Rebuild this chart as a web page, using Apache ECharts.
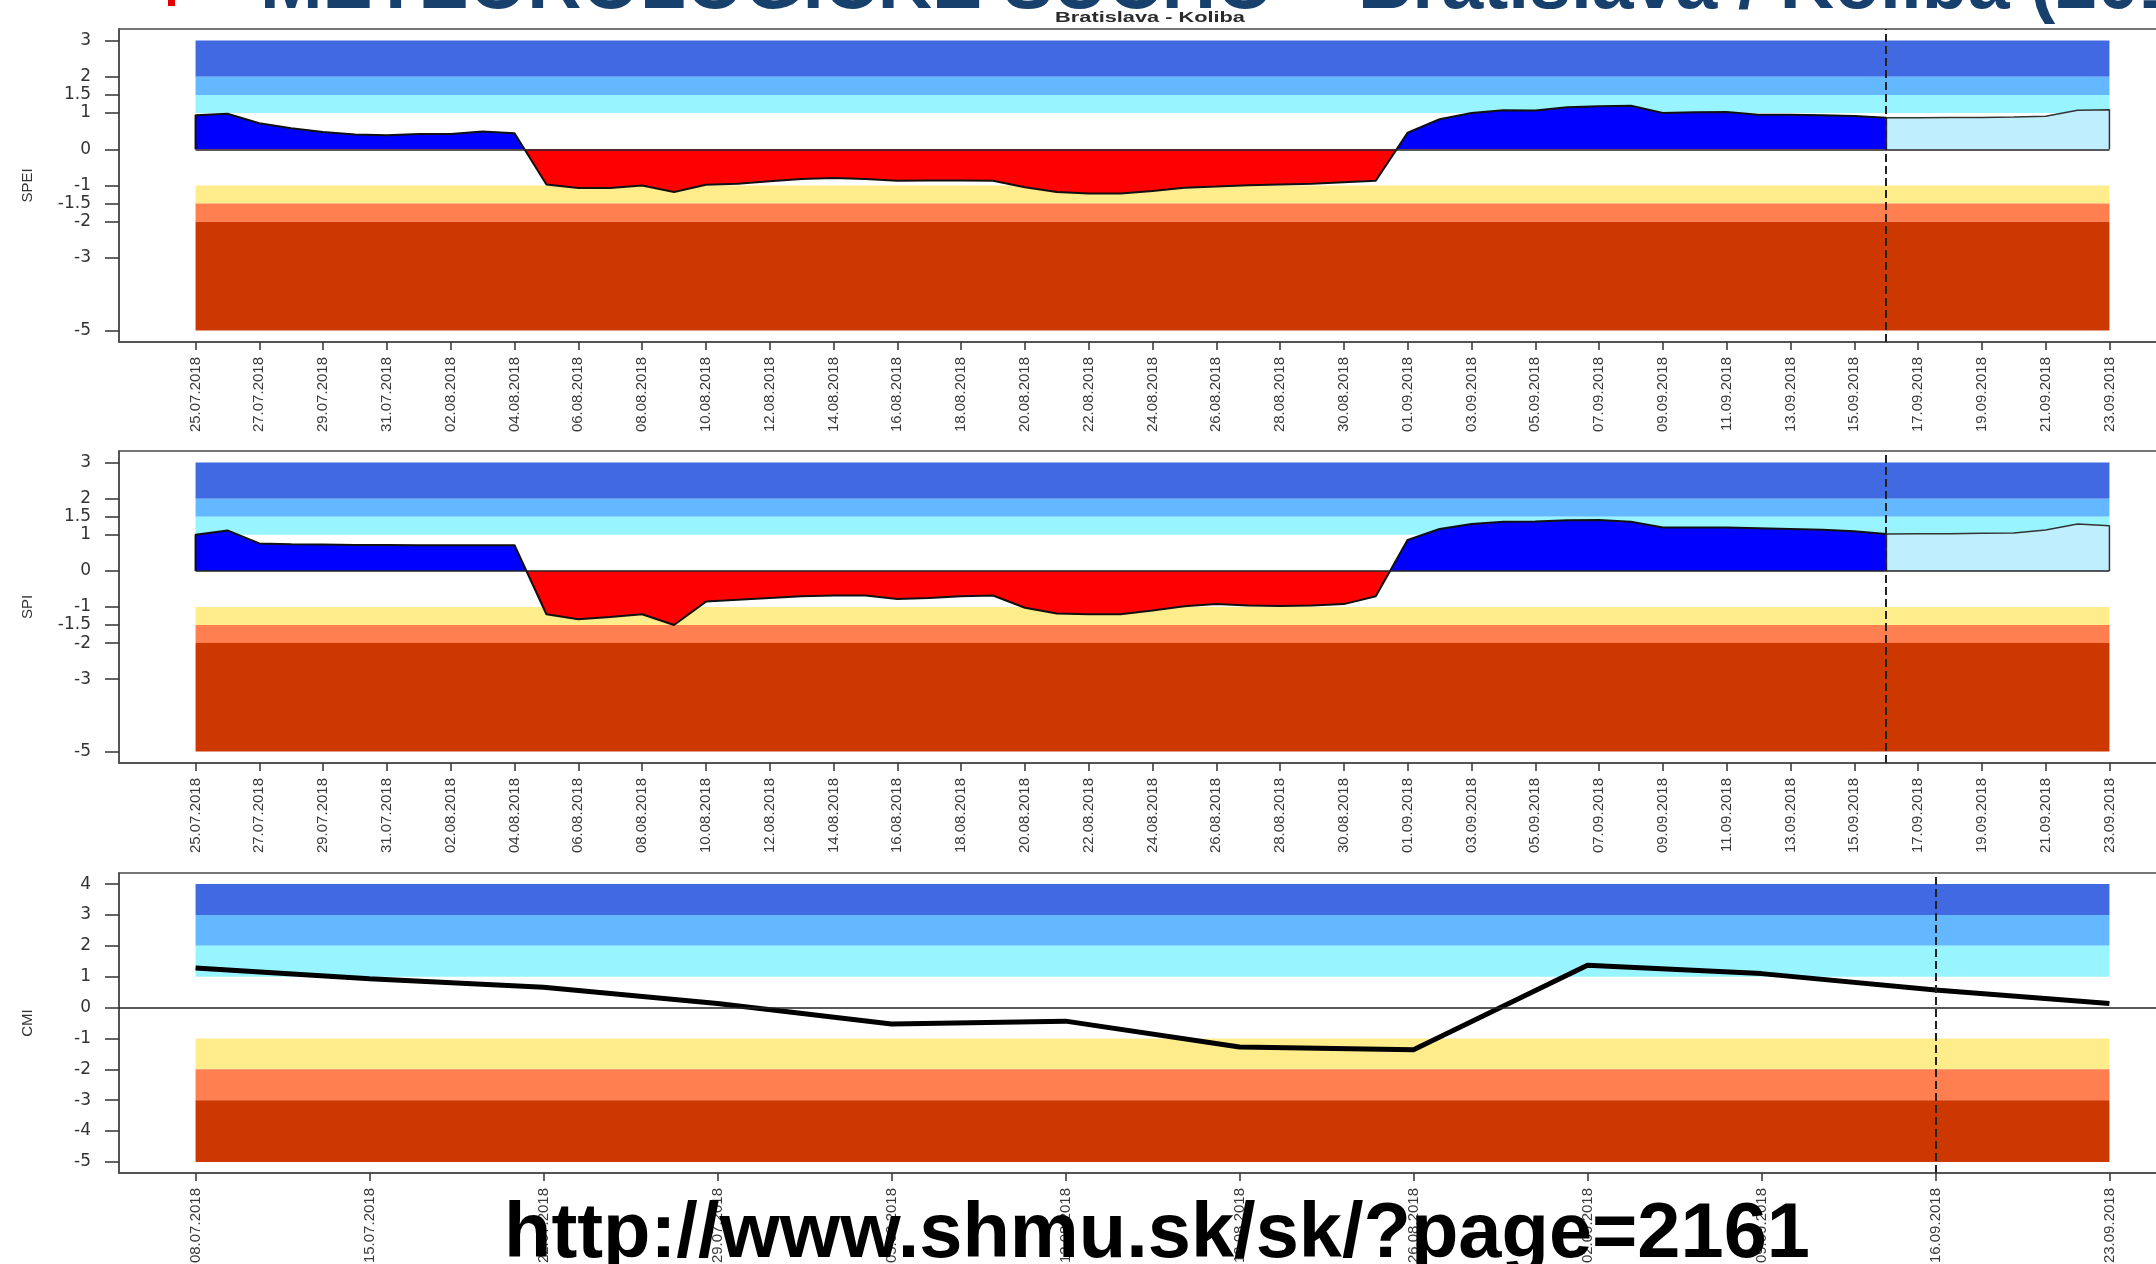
<!DOCTYPE html>
<html>
<head>
<meta charset="utf-8">
<title>Bratislava - Koliba</title>
<script src="https://cdn.jsdelivr.net/npm/echarts@6/dist/echarts.min.js"></script>
<style>
  html, body { margin: 0; padding: 0; background: #fff; }
  #chart { width: 2156px; height: 1264px; }
</style>
</head>
<body>
<div id="chart"></div>
<script>
// texty
const slideTitle = 'METEOROLOGICKÉ SUCHO – Bratislava / Koliba (2018)';
const stationTitle = 'Bratislava - Koliba';
const urlText = 'http://www.shmu.sk/sk/?page=2161';

// popisky osi x (SPEI, SPI: kazdy druhy den od 25.07.)
const dayLabels = ['25.07.2018', '27.07.2018', '29.07.2018', '31.07.2018', '02.08.2018', '04.08.2018',
  '06.08.2018', '08.08.2018', '10.08.2018', '12.08.2018', '14.08.2018', '16.08.2018', '18.08.2018',
  '20.08.2018', '22.08.2018', '24.08.2018', '26.08.2018', '28.08.2018', '30.08.2018', '01.09.2018',
  '03.09.2018', '05.09.2018', '07.09.2018', '09.09.2018', '11.09.2018', '13.09.2018', '15.09.2018',
  '17.09.2018', '19.09.2018', '21.09.2018', '23.09.2018'];
// CMI: tyzdenne
const weekLabels = ['08.07.2018', '15.07.2018', '22.07.2018', '29.07.2018', '05.08.2018', '12.08.2018',
  '19.08.2018', '26.08.2018', '02.09.2018', '09.09.2018', '16.09.2018', '23.09.2018'];

// SPEI - merane dni 25.07. .. 16.09., predpoved 16.09. .. 23.09.
const speiObs = [0.94, 0.98, 0.72, 0.58, 0.48, 0.41, 0.39, 0.42, 0.42, 0.49, 0.44,
  -0.97, -1.07, -1.07, -1.0, -1.18, -0.98, -0.95, -0.88, -0.82, -0.79, -0.82, -0.87, -0.86, -0.86,
  -0.87, -1.05, -1.18, -1.22, -1.22, -1.15, -1.06, -1.03, -0.99, -0.97, -0.95, -0.91, -0.87,
  0.46, 0.83, 1.0, 1.08, 1.07, 1.16, 1.19, 1.2, 1.0, 1.02, 1.03, 0.95, 0.95, 0.94, 0.92, 0.87];
const speiFcst = [0.87, 0.87, 0.88, 0.88, 0.89, 0.91, 1.08, 1.09];

// SPI
const spiObs = [1.0, 1.12, 0.76, 0.74, 0.73, 0.72, 0.72, 0.71, 0.71, 0.71, 0.71,
  -1.2, -1.34, -1.28, -1.2, -1.5, -0.85, -0.8, -0.75, -0.7, -0.68, -0.68, -0.78, -0.75, -0.7,
  -0.68, -1.02, -1.18, -1.2, -1.2, -1.1, -0.98, -0.92, -0.96, -0.97, -0.96, -0.92, -0.7,
  0.86, 1.16, 1.3, 1.36, 1.37, 1.4, 1.41, 1.36, 1.2, 1.2, 1.2, 1.18, 1.16, 1.14, 1.1, 1.02];
const spiFcst = [1.02, 1.03, 1.03, 1.04, 1.05, 1.13, 1.3, 1.25];

// CMI tyzdenne
const cmiValues = [1.28, 0.93, 0.66, 0.13, -0.53, -0.44, -1.28, -1.37, 1.37, 1.1, 0.57, 0.13];

// hranice pasiem a tick-y osi y
const spBandLimits = [[2, 3], [1.5, 2], [1, 1.5], [-1.5, -1], [-2, -1.5], [-5, -2]];
const cmiBandLimits = [[3, 4], [2, 3], [1, 2], [-2, -1], [-3, -2], [-5, -3]];
const spYTicks = [-5, -3, -2, -1.5, -1, 0, 1, 1.5, 2, 3];
const cmiYTicks = [-5, -4, -3, -2, -1, 0, 1, 2, 3, 4];

const bandColors = ['#4169E1', '#63B8FF', '#98F5FF', '#FFEC8B', '#FF7F50', '#CD3700'];

const forecastStart = speiObs.length - 1;   // 16.09.
const lastDay = (dayLabels.length - 1) * 2;  // 60
const cmiNow = weekLabels.indexOf('16.09.2018');

const chart = echarts.init(document.getElementById('chart'));

const GRID_LEFT = 119;
const GRID_W = 2067;
const frameColor = '#4a4a4a';

const grids = [
  {top: 29, height: 313},
  {top: 451, height: 312},
  {top: 873, height: 300}
].map(g => Object.assign({
  show: true, left: GRID_LEFT, width: GRID_W, outerBoundsMode: 'none', containLabel: false,
  borderColor: frameColor, borderWidth: 1.5, backgroundColor: 'transparent'
}, g));

function xAxisCfg(gridIndex, min, max, ticks, fmt) {
  return {
    type: 'value', gridIndex, min, max,
    splitLine: {show: false},
    axisLine: {show: true, onZero: false, lineStyle: {color: frameColor, width: 1.5}},
    axisTick: {show: true, customValues: ticks, length: 8, lineStyle: {color: '#333', width: 1.5}},
    axisLabel: {
      customValues: ticks, rotate: 90, margin: 15, formatter: fmt,
      color: '#3a3a3a', fontSize: 15, fontFamily: 'Liberation Sans'
    }
  };
}

function yAxisCfg(gridIndex, name, min, max, ticks) {
  return {
    type: 'value', gridIndex, min, max, name,
    nameLocation: 'middle', nameGap: 84,
    nameTextStyle: {color: '#333', fontSize: 15, fontFamily: 'Liberation Sans'},
    splitLine: {show: false},
    axisLine: {show: true, onZero: false, lineStyle: {color: frameColor, width: 1.5}},
    axisTick: {show: true, customValues: ticks, length: 14, lineStyle: {color: '#333', width: 1.5}},
    axisLabel: {
      customValues: ticks, margin: 28, color: '#333', fontSize: 17, fontFamily: 'DejaVu Sans',
      formatter: v => String(v)
    }
  };
}

// pasma v pozadi
function bandSeries(idx, limits, x0, x1) {
  return {
    type: 'line', xAxisIndex: idx, yAxisIndex: idx, data: [], silent: true, z: 1,
    markArea: {
      silent: true, label: {show: false},
      data: limits.map((b, k) => [
        {xAxis: x0, yAxis: b[0], itemStyle: {color: bandColors[k], opacity: 1}},
        {xAxis: x1, yAxis: b[1]}
      ])
    }
  };
}

// merane hodnoty - modra nad nulou, cervena pod nulou (vypln doplnena nizsie)
function obsSeries(idx, vals) {
  const pts = [[0, 0]].concat(vals.map((v, i) => [i, v])).concat([[vals.length - 1, 0]]);
  return {
    type: 'line', xAxisIndex: idx, yAxisIndex: idx, data: pts,
    symbol: 'none', showSymbol: false, silent: true, z: 3,
    lineStyle: {color: '#111', width: 2},
    areaStyle: {color: '#0000FF', opacity: 1, origin: 0}
  };
}

function fcstSeries(idx, vals) {
  const end = forecastStart + vals.length - 1;
  const pts = [[forecastStart, 0]].concat(vals.map((v, i) => [forecastStart + i, v])).concat([[end, 0]]);
  return {
    type: 'line', xAxisIndex: idx, yAxisIndex: idx, data: pts,
    symbol: 'none', showSymbol: false, silent: true, z: 3,
    lineStyle: {color: '#333', width: 1.5},
    areaStyle: {color: '#BFEFFF', opacity: 1, origin: 0},
    markLine: {
      silent: true, symbol: ['none', 'none'], label: {show: false}, z: 5,
      data: [
        {xAxis: forecastStart, lineStyle: {type: 'dashed', color: '#222', width: 2}},
        [{coord: [0, 0], lineStyle: {type: 'solid', color: '#222', width: 1.5}}, {coord: [end, 0]}]
      ]
    }
  };
}

const dayFmt = v => dayLabels[Math.round(v / 2)] || '';
const dayTicks = dayLabels.map((_, i) => i * 2);
const weekTicks = weekLabels.map((_, i) => i);
const padDay = lastDay * 0.04;
const padWeek = (weekLabels.length - 1) * 0.04;

const option = {
  animation: false,
  backgroundColor: '#fff',
  grid: grids,
  xAxis: [
    xAxisCfg(0, -padDay, lastDay + padDay, dayTicks, dayFmt),
    xAxisCfg(1, -padDay, lastDay + padDay, dayTicks, dayFmt),
    xAxisCfg(2, -padWeek, weekLabels.length - 1 + padWeek, weekTicks, v => weekLabels[Math.round(v)] || '')
  ],
  yAxis: [
    yAxisCfg(0, 'SPEI', -5.32, 3.32, spYTicks),
    yAxisCfg(1, 'SPI', -5.32, 3.32, spYTicks),
    yAxisCfg(2, 'CMI', -5.36, 4.36, cmiYTicks)
  ],
  series: [
    bandSeries(0, spBandLimits, 0, lastDay),
    obsSeries(0, speiObs),
    fcstSeries(0, speiFcst),
    bandSeries(1, spBandLimits, 0, lastDay),
    obsSeries(1, spiObs),
    fcstSeries(1, spiFcst),
    bandSeries(2, cmiBandLimits, 0, weekLabels.length - 1),
    {
      type: 'line', xAxisIndex: 2, yAxisIndex: 2,
      data: cmiValues.map((v, i) => [i, v]),
      symbol: 'none', showSymbol: false, silent: true, z: 4,
      lineStyle: {color: '#000', width: 5},
      markLine: {
        silent: true, symbol: ['none', 'none'], label: {show: false},
        data: [
          {yAxis: 0, lineStyle: {type: 'solid', color: '#222', width: 1.5}},
          {xAxis: cmiNow, lineStyle: {type: 'dashed', color: '#222', width: 2}}
        ]
      }
    }
  ]
};

// sirka textov podla predlohy
const measureCtx = document.createElement('canvas').getContext('2d');
function fitScale(text, font, target) {
  measureCtx.font = font;
  return target / measureCtx.measureText(text).width;
}
const titleFont = 'bold 76px "Liberation Sans"';
const urlFont = 'bold 78px "Liberation Sans"';
const titleScale = fitScale('METEOROLOGICKÉ SUCHO – ', titleFont, 1098);
const urlScale = fitScale(urlText, urlFont, 1306);

option.graphic = [
  {type: 'rect', z: 50, shape: {x: 168, y: -10, width: 7, height: 16}, style: {fill: '#E00000'}},
  {
    type: 'text', z: 50, x: 260, y: -13, scaleX: titleScale,
    style: {text: slideTitle, font: titleFont, fill: '#17406D', textAlign: 'left', verticalAlign: 'middle'}
  },
  {
    type: 'text', z: 50, x: 1150, y: 18, scaleX: 1.45,
    style: {text: stationTitle, font: 'bold 15px "Liberation Sans"', fill: '#2b2b2b', textAlign: 'center', verticalAlign: 'middle'}
  },
  {
    type: 'text', z: 100, x: 504, y: 1235, scaleX: urlScale,
    style: {text: urlText, font: urlFont, fill: '#000', textAlign: 'left', verticalAlign: 'middle'}
  }
];

chart.setOption(option);

// vypln: modra nad nulou, cervena pod nulou - gradient s ostrym prechodom na pixeli nuly
function signFill(gridIdx) {
  const g = grids[gridIdx];
  const zeroY = chart.convertToPixel({yAxisIndex: gridIdx}, 0);
  const f = Math.min(1, Math.max(0, (zeroY - g.top) / g.height));
  return new echarts.graphic.LinearGradient(0, g.top, 0, g.top + g.height, [
    {offset: 0, color: '#0000FF'}, {offset: f, color: '#0000FF'},
    {offset: f, color: '#FF0000'}, {offset: 1, color: '#FF0000'}
  ], true);
}

chart.setOption({
  series: [{}, {areaStyle: {color: signFill(0)}}, {}, {}, {areaStyle: {color: signFill(1)}}]
});
</script>
</body>
</html>
